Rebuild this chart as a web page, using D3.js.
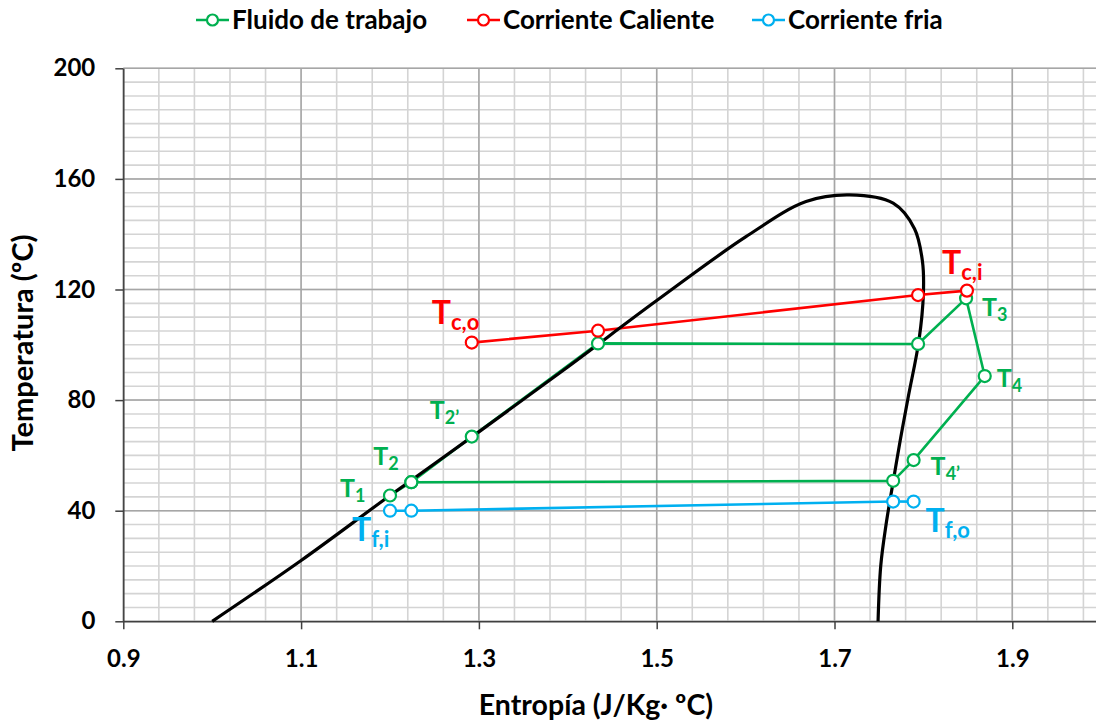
<!DOCTYPE html>
<html>
<head>
<meta charset="utf-8">
<script src="https://cdn.jsdelivr.net/npm/d3@7"></script>
<style>
  html, body { margin: 0; padding: 0; background: #fff; }
  svg { display: block; font-family: Lato, "Open Sans", sans-serif; font-weight: bold; }
</style>
</head>
<body>
<svg id="chart" width="1096" height="724"></svg>
<script>
// Saturation dome (entropy, temperature)
const domeS = [1.000, 1.100, 1.200, 1.300, 1.400, 1.500, 1.600, 1.668, 1.717, 1.766, 1.790, 1.799, 1.800, 1.795, 1.783, 1.774, 1.766, 1.758, 1.752, 1.749];
const domeT = [0, 22, 45.5, 68.5, 92, 116, 139, 151.8, 154.2, 151.2, 142, 130, 118.5, 101.6, 81.2, 65.6, 50.5, 35, 20, 0];

// Working fluid cycle
const fluidS = [1.200, 1.224, 1.292, 1.434, 1.794, 1.848, 1.869, 1.789, 1.766, 1.224];
const fluidT = [45.5, 50.3, 66.8, 100.5, 100.3, 116.8, 88.7, 58.3, 50.8, 50.3];

// Hot stream
const hotS = [1.292, 1.434, 1.794, 1.849];
const hotT = [100.8, 105.1, 118.0, 119.6];

// Cold stream
const coldS = [1.200, 1.224, 1.766, 1.789];
const coldT = [40.0, 40.0, 43.3, 43.3];

// Axis ticks
const xTicks = [0.9, 1.1, 1.3, 1.5, 1.7, 1.9];
const yTicks = [0, 40, 80, 120, 160, 200];

// Legend entries
const legendNames = ["Fluido de trabajo", "Corriente Caliente", "Corriente fria"];

// State point labels: main letter, subscript, attached point
const labelMain = ["T", "T", "T", "T", "T", "T", "T", "T", "T", "T"];
const labelSub  = ["c,o", "c,i", "3", "4", "4’", "f,o", "2’", "2", "1", "f,i"];
const labelS    = [1.292, 1.849, 1.848, 1.869, 1.789, 1.789, 1.292, 1.224, 1.200, 1.200];
const labelT    = [100.8, 119.6, 116.8, 88.7, 58.3, 43.3, 66.8, 50.3, 45.5, 40.0];

const GREEN = "#00b050", RED = "#ff0000", BLUE = "#00b0f0";
const labelColor = [RED, RED, GREEN, GREEN, GREEN, BLUE, GREEN, GREEN, GREEN, BLUE];
const labelBig   = [true, true, false, false, false, true, false, false, false, true];
const labelOffset = [[-40, -19], [-25, -17], [16, 18], [12, 11], [17, 15], [12, 30], [-42, -18], [-38, -17], [-50, 2], [-38, 30]];

const svg = d3.select("#chart");

const x = d3.scaleLinear().domain([0.9, 2.0]).range([123.3, 1101.2]);
const y = d3.scaleLinear().domain([0, 200]).range([621.3, 68.3]);

const plot = svg.append("g");

// Gridlines: minor then major
const minorX = d3.range(0, 28).map(i => 0.9 + i * 0.04).filter(v => v <= 2.0001);
const minorY = d3.range(0, 41).map(i => i * 5);
plot.append("g").selectAll("line").data(minorX).join("line")
  .attr("x1", d => x(d)).attr("x2", d => x(d))
  .attr("y1", y(0)).attr("y2", y(200))
  .attr("stroke", "#d4d4d4").attr("stroke-width", 1.6);
plot.append("g").selectAll("line").data(minorY).join("line")
  .attr("x1", x(0.9)).attr("x2", x(2.0))
  .attr("y1", d => y(d)).attr("y2", d => y(d))
  .attr("stroke", "#d4d4d4").attr("stroke-width", 1.6);
plot.append("g").selectAll("line").data(xTicks).join("line")
  .attr("x1", d => x(d)).attr("x2", d => x(d))
  .attr("y1", y(0)).attr("y2", y(200))
  .attr("stroke", "#a6a6a6").attr("stroke-width", 1.5);
plot.append("g").selectAll("line").data(yTicks).join("line")
  .attr("x1", x(0.9)).attr("x2", x(2.0))
  .attr("y1", d => y(d)).attr("y2", d => y(d))
  .attr("stroke", "#a6a6a6").attr("stroke-width", 1.5);

// Axes
const xAxis = svg.append("g").attr("transform", `translate(0,${y(0)})`)
  .call(d3.axisBottom(x).tickValues(xTicks).tickFormat(d3.format(".1f")).tickSizeInner(8).tickSizeOuter(0));
const yAxis = svg.append("g").attr("transform", `translate(${x(0.9)},0)`)
  .call(d3.axisLeft(y).tickValues(yTicks).tickFormat(d3.format("d")).tickSizeInner(8).tickSizeOuter(0));
[xAxis, yAxis].forEach(a => {
  a.select(".domain").attr("stroke", "#404040").attr("stroke-width", 1.5);
  a.selectAll(".tick line").attr("stroke", "#404040").attr("stroke-width", 1.5);
  a.selectAll("text").attr("font-family", "Lato, sans-serif").attr("font-weight", "bold")
    .attr("font-size", 24).attr("fill", "#000");
});
xAxis.selectAll(".tick text").attr("y", 46).attr("dy", 0);
yAxis.selectAll(".tick text").attr("x", -28);

// Axis titles
svg.append("text").attr("x", 596).attr("y", 715).attr("text-anchor", "middle")
  .attr("font-size", 28.5).attr("fill", "#000").text("Entropía (J/Kg· ºC)");
svg.append("text").attr("transform", "translate(33,343) rotate(-90)").attr("text-anchor", "middle")
  .attr("font-size", 29).attr("fill", "#000").text("Temperatura (ºC)");

// Series
const toPts = (S, T) => S.map((s, i) => [s, T[i]]);
const lineGen = d3.line().x(d => x(d[0])).y(d => y(d[1]));
const smoothGen = d3.line().x(d => x(d[0])).y(d => y(d[1])).curve(d3.curveCatmullRom.alpha(0.5));

const series = [
  { pts: toPts(fluidS, fluidT), color: GREEN },
  { pts: toPts(hotS, hotT), color: RED },
  { pts: toPts(coldS, coldT), color: BLUE }
];
series.forEach(s => {
  svg.append("path").datum(s.pts).attr("d", lineGen)
    .attr("fill", "none").attr("stroke", s.color).attr("stroke-width", 2.6).attr("stroke-linejoin", "round");
});

// Dome drawn above the green segments that run along it
svg.append("path").datum(toPts(domeS, domeT)).attr("d", smoothGen)
  .attr("fill", "none").attr("stroke", "#000").attr("stroke-width", 3.2).attr("stroke-linejoin", "round");

series.forEach(s => {
  svg.append("g").selectAll("circle").data(s.pts).join("circle")
    .attr("cx", d => x(d[0])).attr("cy", d => y(d[1])).attr("r", 6)
    .attr("fill", "#fff").attr("stroke", s.color).attr("stroke-width", 2.2);
});

// State labels
labelMain.forEach((m, i) => {
  const big = labelBig[i];
  const t = svg.append("text")
    .attr("x", x(labelS[i]) + labelOffset[i][0])
    .attr("y", y(labelT[i]) + labelOffset[i][1])
    .attr("fill", labelColor[i])
    .attr("font-size", big ? 32 : 25);
  t.append("tspan").text(m);
  t.append("tspan").attr("dy", big ? 6 : 5).attr("font-size", big ? 22 : 18).text(labelSub[i]);
});

// Legend
const legendColors = [GREEN, RED, BLUE];
const legendX = [196, 467, 752];
legendNames.forEach((name, i) => {
  const g = svg.append("g").attr("transform", `translate(${legendX[i]},20)`);
  g.append("line").attr("x1", 0).attr("x2", 33).attr("y1", 0).attr("y2", 0)
    .attr("stroke", legendColors[i]).attr("stroke-width", 2.6);
  g.append("circle").attr("cx", 16.5).attr("cy", 0).attr("r", 5.5)
    .attr("fill", "#fff").attr("stroke", legendColors[i]).attr("stroke-width", 2.2);
  g.append("text").attr("x", 36).attr("y", 9).attr("font-size", 26).attr("fill", "#000").text(name);
});
</script>
</body>
</html>
